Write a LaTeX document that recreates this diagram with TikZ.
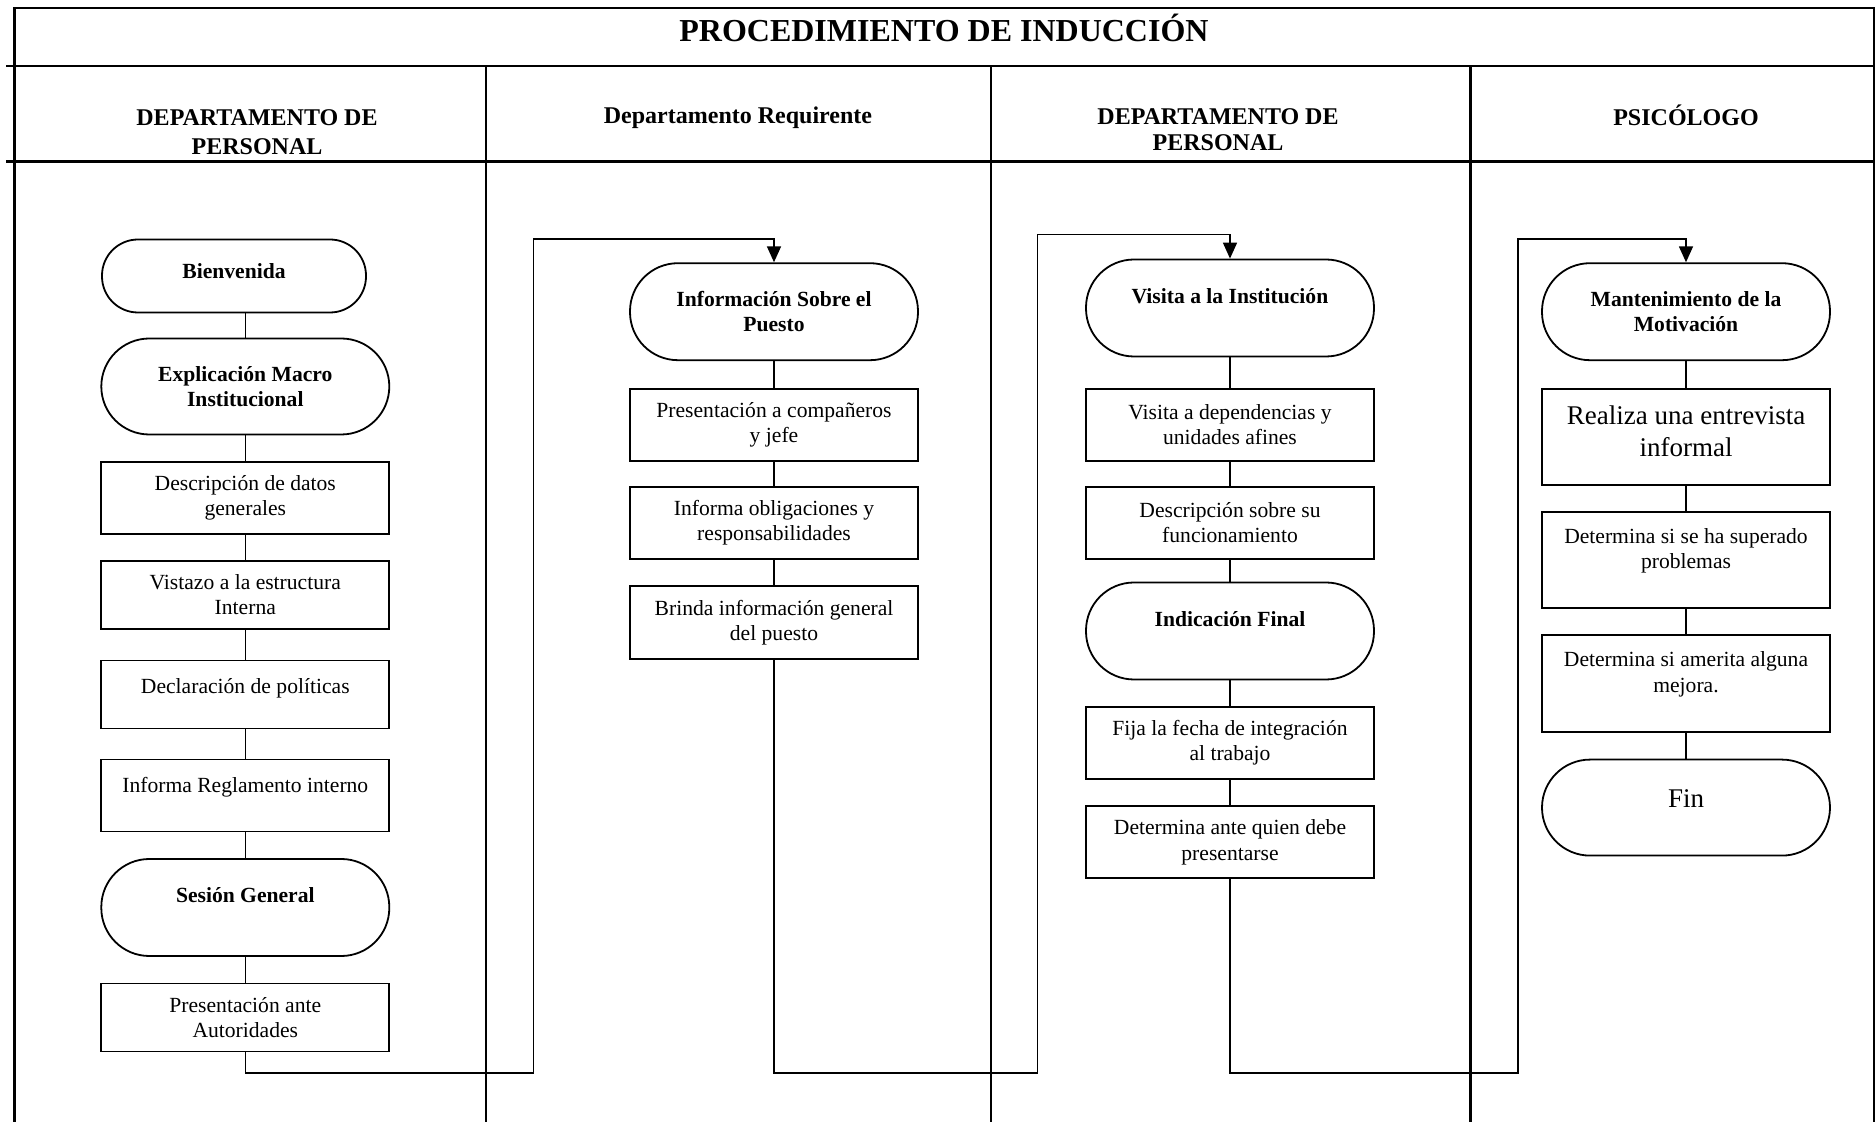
\documentclass[tikz,border=0pt]{standalone}
\usepackage{fontspec}
\setmainfont{Liberation Serif}
\usetikzlibrary{arrows.meta}
\begin{document}
\begin{tikzpicture}[x=0.5pt,y=-0.5pt,
  frame/.style={line width=1.1pt},
  hdr/.style={align=center, inner sep=0pt, font=\bfseries\fontsize{12}{14.5}\selectfont},
  boxstep/.style={draw, line width=0.9pt, inner sep=0pt, align=center, minimum width=144pt,
    font=\fontsize{10.8}{12.6}\selectfont},
  proc/.style={boxstep},
  term/.style={boxstep, rounded corners=24pt, font=\bfseries\fontsize{10.8}{12.6}\selectfont},
  link/.style={line width=0.8pt},
  flow/.style={link, -{Triangle[length=8pt,width=7pt]}},
]
\useasboundingbox (0,0) rectangle (1876,1122);

% outer frame, title band and swimlane dividers
\draw[frame] (14.4,1122) -- (14.4,8.4) -- (1873.6,8.4) -- (1873.6,1122);
\draw[frame] (6,65.8) -- (1873.6,65.8);
\draw[frame] (6,161.5) -- (1873.6,161.5);
\draw[frame] (485.7,65.8) -- (485.7,1122);
\draw[frame] (990.6,65.8) -- (990.6,1122);
\draw[frame] (1470.4,65.8) -- (1470.4,1122);

% title and lane headers
\node[font=\bfseries\fontsize{16}{19}\selectfont] (title) at (944,28) {PROCEDIMIENTO DE INDUCCIÓN};
\node[hdr] (h1) at (257,132.5) {DEPARTAMENTO DE\\PERSONAL};
\node[hdr] (h2) at (738,118) {Departamento Requirente};
\node[hdr, font=\bfseries\fontsize{12}{13}\selectfont] (h3) at (1218,130) {DEPARTAMENTO DE\\PERSONAL};
\node[hdr] (h4) at (1686,115) {PSICÓLOGO};

% lane 1: Departamento de Personal
\node[term, minimum width=132pt, minimum height=36.5pt, rounded corners=18pt] (a1) at (234,276) {Bienvenida\\[-11pt]\strut};
\node[term, minimum height=48pt] (a2) at (245.3,386.5) {Explicación Macro\\Institucional};
\node[proc, minimum height=36pt] (a3) at (245.3,497.7) {Descripción de datos\\generales};
\node[proc, minimum height=34pt] (a4) at (245.3,595) {Vistazo a la estructura\\Interna};
\node[proc, minimum height=34pt] (a5) at (245.3,694.5) {Declaración de políticas\\[-7.5pt]\strut};
\node[proc, minimum height=36pt] (a6) at (245.3,795.6) {Informa Reglamento interno\\[-6pt]\strut};
\node[term, minimum height=48.5pt] (a7) at (245.3,907.5) {Sesión General\\[-4pt]\strut};
\node[proc, minimum height=34pt] (a8) at (245.3,1017.5) {Presentación ante\\Autoridades};

% lane 2: Departamento Requirente
\node[term, minimum height=48.5pt] (b1) at (774,311.7) {Información Sobre el\\Puesto};
\node[proc, minimum height=36pt] (b2) at (774,424.7) {Presentación a compañeros\\y jefe};
\node[proc, minimum height=36pt] (b3) at (774,522.8) {Informa obligaciones y\\responsabilidades};
\node[proc, minimum height=36.5pt] (b4) at (774,622.7) {Brinda información general\\del puesto};

% lane 3: Departamento de Personal
\node[term, minimum height=48.5pt] (c1) at (1230,308) {Visita a la Institución\\[-4pt]\strut};
\node[proc, minimum height=36pt] (c2) at (1230,424.7) {Visita a dependencias y\\unidades afines};
\node[proc, minimum height=36pt] (c3) at (1230,522.8) {Descripción sobre su\\funcionamiento};
\node[term, minimum height=48.5pt] (c4) at (1230,631) {Indicación Final\\[-4pt]\strut};
\node[proc, minimum height=36pt] (c5) at (1230,743) {Fija la fecha de integración\\al trabajo};
\node[proc, minimum height=36pt] (c6) at (1230,842.3) {Determina ante quien debe\\presentarse};

% lane 4: Psicólogo
\node[term, minimum height=48.5pt] (d1) at (1686,311.7) {Mantenimiento de la\\Motivación};
\node[proc, minimum height=48pt, font=\fontsize{13.5}{16}\selectfont] (d2) at (1686,436.7) {Realiza una entrevista\\informal\\[-15pt]\strut};
\node[proc, minimum height=48pt] (d3) at (1686,560) {Determina si se ha superado\\problemas\\[-5pt]\strut};
\node[proc, minimum height=48.5pt] (d4) at (1686,683.7) {Determina si amerita alguna\\mejora.\\[-4.6pt]\strut};
\node[term, minimum height=48pt, font=\fontsize{13.5}{16}\selectfont] (d5) at (1686,807.6) {Fin\\[-12pt]\strut};

% connectors inside each lane
\draw[link] (a1.south -| a2.north) -- (a2.north);
\foreach \u/\v in {a2/a3,a3/a4,a4/a5,a5/a6,a6/a7,a7/a8,
                   b1/b2,b2/b3,b3/b4,
                   c1/c2,c2/c3,c3/c4,c4/c5,c5/c6,
                   d1/d2,d2/d3,d3/d4,d4/d5}
  \draw[link] (\u.south) -- (\v.north);

% hand-offs between lanes
\coordinate (r1) at (533.6,1073);  \coordinate (t1) at (533.6,239.3);
\coordinate (r2) at (1037.3,1073); \coordinate (t2) at (1037.3,234.5);
\coordinate (r3) at (1518.2,1073); \coordinate (t3) at (1518.2,239.3);
\draw[flow] (a8.south) |- (r1) -- (t1) -| (b1.north);
\draw[flow] (b4.south) |- (r2) -- (t2) -| (c1.north);
\draw[flow] (c6.south) |- (r3) -- (t3) -| (d1.north);
\end{tikzpicture}
\end{document}
